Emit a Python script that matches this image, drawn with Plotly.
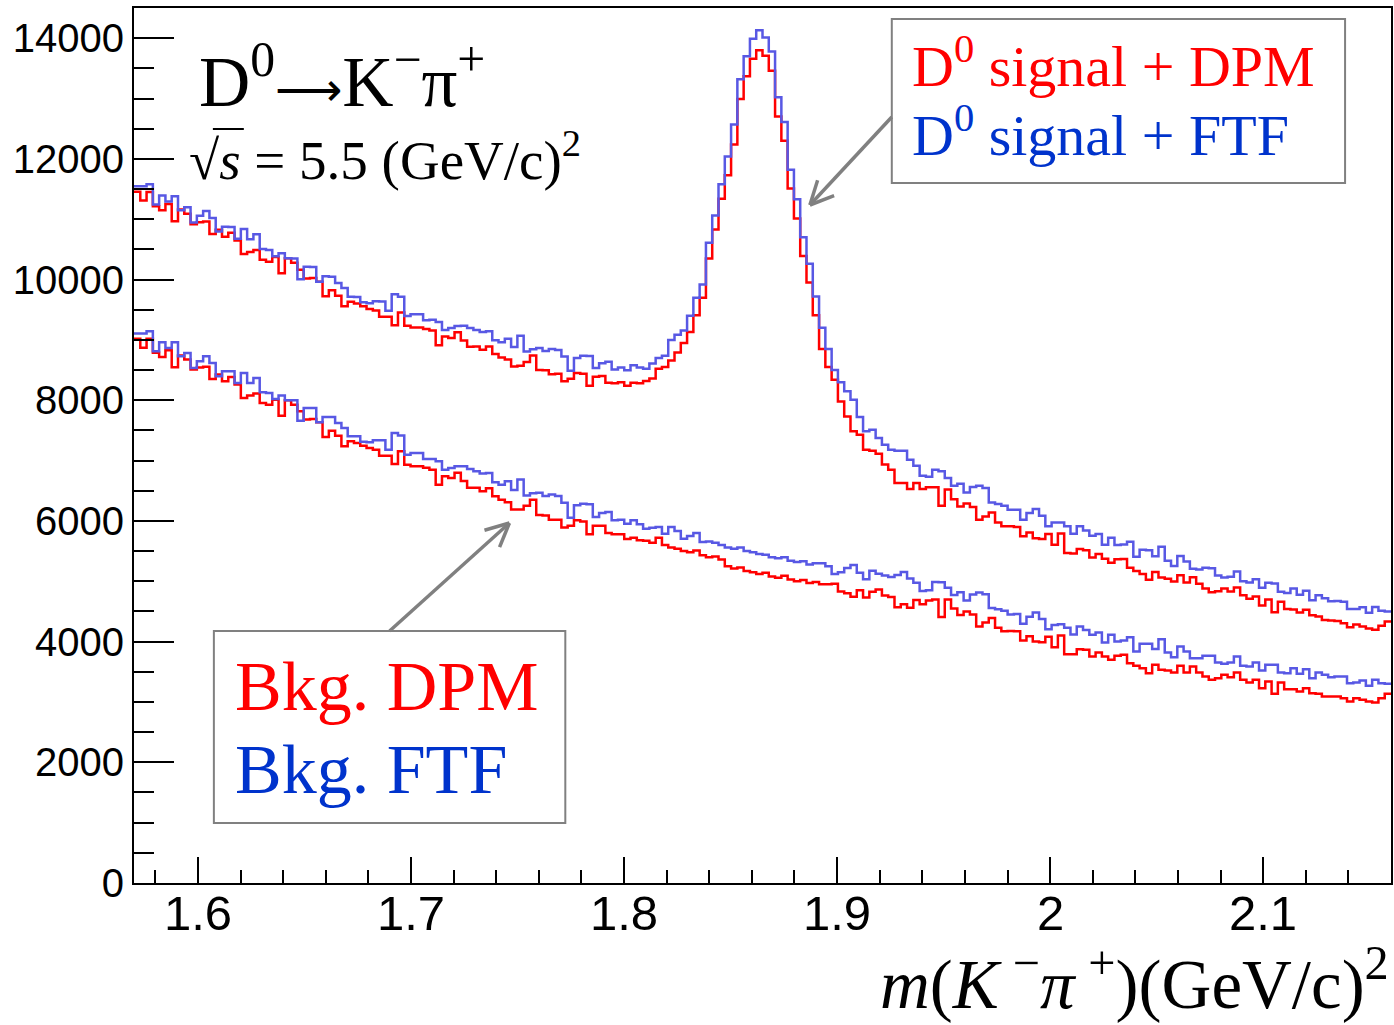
import math
import plotly.graph_objects as go

# ---------------- data ----------------
x_min, x_max = 1.57, 2.16
n_bins = 200

bkg_dpm = [
    9017, 8868, 9017, 8785, 8718, 8828, 8546, 8740, 8674, 8508,
    8541, 8557, 8354, 8425, 8314, 8386, 8259, 8038, 8077, 8110,
    7955, 7927, 8010, 7745, 7999, 7927, 7817, 7679, 7690, 7634,
    7392, 7496, 7413, 7236, 7319, 7292, 7247, 7209, 7181, 7082,
    7082, 6944, 7153, 6933, 6905, 6905, 6880, 6850, 6600, 6740,
    6710, 6800, 6660, 6550, 6550, 6490, 6540, 6410, 6350, 6310,
    6190, 6190, 6250, 6350, 6100, 6090, 6020, 6020, 5890, 5920,
    6010, 5990, 5780, 5920, 5920, 5800, 5780, 5780, 5700, 5720,
    5680, 5670, 5640, 5720, 5600, 5560, 5540, 5500, 5480, 5510,
    5430, 5400, 5410, 5360, 5250, 5210, 5230, 5170, 5150, 5120,
    5140, 5080, 5060, 5090, 5030, 5000, 5020, 4970, 4990, 4950,
    4950, 4960, 4830, 4800, 4745, 4850, 4730, 4825, 4865, 4765,
    4740, 4570, 4620, 4560, 4690, 4620, 4680, 4700, 4410, 4700,
    4550, 4440, 4500, 4450, 4250, 4315, 4390, 4230, 4170, 4175,
    4170, 4020, 4090, 4000, 3990, 4080, 3905, 4100, 3790, 3790,
    3875, 3865, 3753, 3820, 3753, 3698, 3764, 3781, 3643, 3599,
    3560, 3477, 3615, 3533, 3521, 3488, 3599, 3488, 3588, 3488,
    3422, 3367, 3394, 3450, 3411, 3488, 3367, 3322, 3367, 3229,
    3339, 3135, 3322, 3212, 3212, 3173, 3229, 3146, 3135, 3090,
    3090, 3090, 3063, 3007, 3063, 3035, 3007, 2990, 3063, 3135,
]

bkg_ftf = [
    9105, 9105, 9144, 8812, 8961, 8867, 8961, 8729, 8784, 8536,
    8646, 8729, 8619, 8397, 8480, 8480, 8287, 8453, 8287, 8370,
    8132, 8121, 8022, 8077, 7999, 7999, 7662, 7873, 7873, 7634,
    7723, 7723, 7624, 7541, 7402, 7402, 7314, 7303, 7336, 7336,
    7181, 7458, 7414, 7098, 7126, 7126, 7027, 7027, 6988, 6850,
    6877, 6905, 6905, 6861, 6822, 6784, 6795, 6639, 6601, 6656,
    6512, 6688, 6423, 6457, 6467, 6412, 6440, 6412, 6301, 6053,
    6259, 6286, 6275, 6065, 6131, 6148, 6010, 6021, 5955, 6010,
    5943, 5872, 5888, 5900, 5788, 5900, 5834, 5706, 5750, 5800,
    5650, 5660, 5640, 5600, 5560, 5540, 5560, 5500, 5480, 5450,
    5440, 5400, 5380, 5400, 5340, 5320, 5330, 5280, 5300, 5300,
    5250, 5120, 5150, 5218, 5270, 5143, 5035, 5173, 5125, 5094,
    5071, 5105, 5155, 5045, 4976, 4840, 4853, 4990, 4982, 4892,
    4774, 4817, 4683, 4782, 4814, 4786, 4557, 4535, 4513, 4451,
    4456, 4295, 4411, 4482, 4376, 4205, 4276, 4286, 4230, 4118,
    4250, 4193, 4113, 4152, 3986, 4113, 4003, 4020, 4074, 3837,
    3964, 3964, 3876, 4041, 3820, 3743, 3920, 3837, 3726, 3726,
    3765, 3765, 3654, 3632, 3654, 3754, 3599, 3588, 3654, 3521,
    3615, 3615, 3488, 3477, 3560, 3466, 3544, 3394, 3488, 3449,
    3411, 3422, 3422, 3312, 3322, 3356, 3267, 3367, 3312, 3300,
]

d0_signal = [
    2440, 2440, 2435, 2430, 2430, 2425, 2420, 2420, 2415, 2410,
    2410, 2405, 2400, 2400, 2395, 2390, 2390, 2385, 2380, 2380,
    2375, 2370, 2365, 2360, 2355, 2350, 2345, 2340, 2335, 2330,
    2330, 2325, 2320, 2320, 2315, 2310, 2310, 2305, 2305, 2300,
    2300, 2300, 2300, 2300, 2300, 2300, 2300, 2305, 2310, 2315,
    2320, 2325, 2330, 2335, 2340, 2345, 2350, 2355, 2360, 2365,
    2370, 2380, 2385, 2390, 2400, 2405, 2410, 2420, 2425, 2435,
    2440, 2450, 2460, 2470, 2480, 2490, 2500, 2520, 2540, 2570,
    2600, 2650, 2720, 2800, 2950, 3100, 3250, 3450, 3650, 3900,
    4270, 4950, 5420, 5980, 6480, 7030, 7760, 8200, 8510, 8680,
    8570, 8380, 7640, 7210, 6480, 6010, 5370, 4980, 4420, 3900,
    3600, 3380, 3150, 2930, 2740, 2580, 2450, 2340, 2250, 2170,
    2110, 2060, 2010, 1970, 1940, 1910, 1880, 1860, 1840, 1820,
    1810, 1800, 1790, 1780, 1770, 1760, 1750, 1745, 1740, 1735,
    1730, 1725, 1720, 1715, 1710, 1705, 1700, 1690, 1680, 1670,
    1660, 1650, 1640, 1630, 1620, 1610, 1600, 1590, 1580, 1570,
    1560, 1550, 1540, 1530, 1520, 1510, 1500, 1490, 1480, 1470,
    1460, 1450, 1440, 1430, 1420, 1410, 1400, 1390, 1380, 1370,
    1360, 1350, 1340, 1330, 1320, 1310, 1300, 1290, 1280, 1270,
    1260, 1250, 1240, 1230, 1220, 1215, 1210, 1205, 1200, 1200,
]

y_tick_values = [0, 2000, 4000, 6000, 8000, 10000, 12000, 14000]
x_tick_values = [1.6, 1.7, 1.8, 1.9, 2.0, 2.1]
x_tick_labels = ["1.6", "1.7", "1.8", "1.9", "2", "2.1"]

# ---------------- derived histograms ----------------
bin_width = (x_max - x_min) / n_bins
edges = [x_min + i * bin_width for i in range(n_bins + 1)]
sig_dpm = [b + s for b, s in zip(bkg_dpm, d0_signal)]
sig_ftf = [b + s for b, s in zip(bkg_ftf, d0_signal)]


def step(values):
    return edges, list(values) + [values[-1]]


RED = "#ff0000"
BLUE_LINE = "rgb(88,88,228)"
BLUE_TEXT = "#0033cc"
GRAY = "rgb(128,128,128)"

fig = go.Figure()
for vals, col in [(bkg_dpm, RED), (sig_dpm, RED), (bkg_ftf, BLUE_LINE), (sig_ftf, BLUE_LINE)]:
    xs, ys = step(vals)
    fig.add_trace(go.Scatter(x=xs, y=ys, mode="lines", line=dict(color=col, width=2.5, shape="hv"),
                             showlegend=False, hoverinfo="skip"))

# ---------------- layout ----------------
W, H = 1394, 1025
PL, PR, PT, PB = 134, 1393, 8, 883


def px(x):
    return (x - PL) / (PR - PL)


def py(y):
    return (PB - y) / (PB - PT)


fig.update_layout(
    width=W, height=H,
    margin=dict(l=PL, r=W - PR, t=PT, b=H - PB, pad=0),
    paper_bgcolor="white", plot_bgcolor="white",
    showlegend=False,
    font=dict(family="Liberation Sans, Arial, sans-serif", color="black"),
)

fig.update_xaxes(
    range=[x_min, x_max], showgrid=False, zeroline=False,
    showline=True, linecolor="black", linewidth=2, mirror=True,
    tickmode="array", tickvals=x_tick_values, showticklabels=False,
    ticks="inside", ticklen=26, tickwidth=2, tickcolor="black",
    minor=dict(dtick=0.02, tick0=1.6, ticks="inside", ticklen=13, tickwidth=2, tickcolor="black"),
)
fig.update_yaxes(
    range=[0, 14500], showgrid=False, zeroline=False,
    showline=True, linecolor="black", linewidth=2, mirror=True,
    tickmode="array", tickvals=y_tick_values, ticktext=[str(v) for v in y_tick_values],
    ticks="inside", ticklen=40, tickwidth=2, tickcolor="black",
    tickfont=dict(size=40, family="Liberation Sans, Arial"),
    minor=dict(dtick=500, tick0=0, ticks="inside", ticklen=20, tickwidth=2, tickcolor="black"),
)

SERIF = "Liberation Serif, Times New Roman, serif"
ann = []

# x tick labels (placed close under the axis, as in the reference)
for v, lab in zip(x_tick_values, x_tick_labels):
    ann.append(dict(text=lab, x=v, y=py(913), xref="x", yref="paper", showarrow=False,
                    xanchor="center", yanchor="middle",
                    font=dict(family="Liberation Sans, Arial", size=49, color="black")))


def text(s, x, y, size, color="black", xanchor="left", yanchor="middle"):
    ann.append(dict(text=s, x=px(x), y=py(y), xref="paper", yref="paper", showarrow=False,
                    xanchor=xanchor, yanchor=yanchor, borderpad=0,
                    font=dict(family=SERIF, size=size, color=color)))


text("D<sup>0</sup><span style='font-size:47px'>\u27f6</span>K<sup>\u2212</sup>\u03c0<sup>+</sup>",
     198, 76, 71)
text("\u221a<i>s</i> = 5.5 (GeV/c)<sup>2</sup>", 188, 157, 55)
text("D<sup>0</sup> signal + DPM", 912, 62, 58, RED)
text("D<sup>0</sup> signal + FTF", 912, 131, 58, BLUE_TEXT)
text("Bkg. DPM", 234, 686, 70, RED)
text("Bkg. FTF", 234, 769, 70, BLUE_TEXT)
text("<i>m</i>(<i>K</i>\u2009<sup>\u2212</sup><i>\u03c0</i>\u2009<sup>+</sup>)(GeV/c)<sup>2</sup>",
     1392, 1024, 69, xanchor="right", yanchor="bottom")
fig.update_layout(annotations=ann)

shapes = []
# legend boxes
for (x0, y0, x1, y1) in [(893, 19, 1347, 183), (214, 631, 566, 823)]:
    shapes.append(dict(type="rect", xref="paper", yref="paper", x0=px(x0), x1=px(x1), y0=py(y1), y1=py(y0),
                       line=dict(color=GRAY, width=2), fillcolor="white", layer="above"))


# arrows with open V heads
def arrow(xa, ya, xb, yb, head=26, spread=0.45):
    shapes.append(dict(type="line", xref="paper", yref="paper", x0=px(xa), y0=py(ya), x1=px(xb), y1=py(yb),
                       line=dict(color=GRAY, width=3.5)))
    ang = math.atan2(ya - yb, xa - xb)
    for d in (-spread, spread):
        hx = xb + head * math.cos(ang + d)
        hy = yb + head * math.sin(ang + d)
        shapes.append(dict(type="line", xref="paper", yref="paper", x0=px(xb), y0=py(yb), x1=px(hx), y1=py(hy),
                           line=dict(color=GRAY, width=3.5)))


arrow(893, 117, 811, 205)
arrow(390, 631, 510, 523)

# vinculum of the square root
shapes.append(dict(type="line", xref="paper", yref="paper", x0=px(213), x1=px(244), y0=py(129), y1=py(129),
                   line=dict(color="black", width=2)))
fig.update_layout(shapes=shapes)

fig.write_html("out.html")
